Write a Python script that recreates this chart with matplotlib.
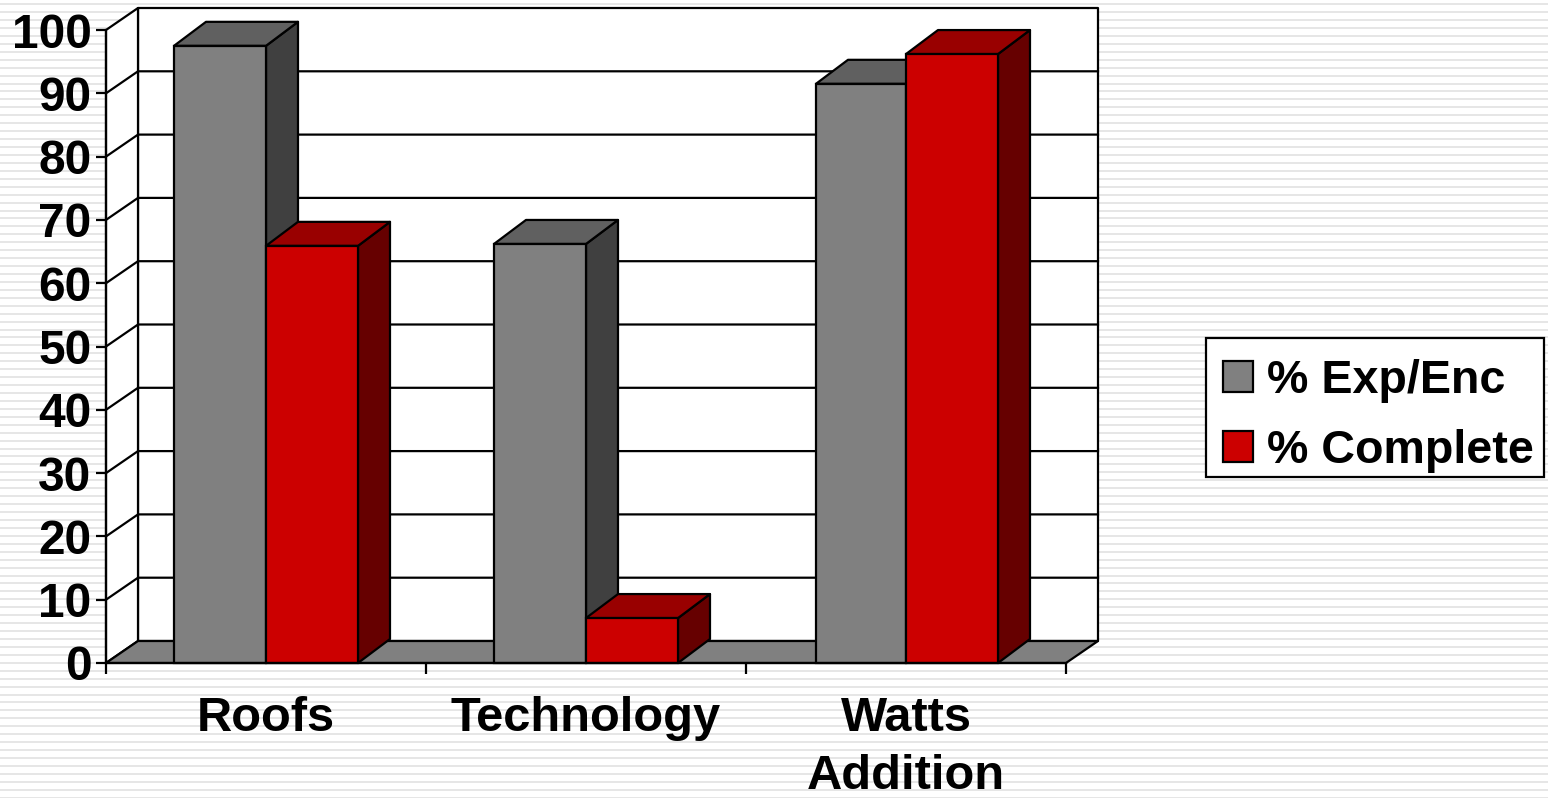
import matplotlib
matplotlib.use("Agg")
import matplotlib.pyplot as plt
from matplotlib.patches import Patch, Rectangle

plt.rcParams['font.family'] = ['Liberation Sans', 'DejaVu Sans']
plt.rcParams['font.weight'] = 'bold'

# chart values
categories = ['Roofs', 'Technology', 'Watts\nAddition']
exp_enc = [97.5, 66.2, 91.5]
complete = [65.9, 7.1, 96.2]
y_ticks = [0, 10, 20, 30, 40, 50, 60, 70, 80, 90, 100]
series_names = ['% Exp/Enc', '% Complete']

W, H = 1548, 798
fig = plt.figure(figsize=(W / 100, H / 100), dpi=100, facecolor='white')

# striped slide background
n = 0
while n * 7.935 < H:
    fig.add_artist(Rectangle((0, 1 - (3.2 + n * 7.935 + 2.0) / H), 1, 2.0 / H,
                             transform=fig.transFigure, fc='#e6e6e6', ec='none', zorder=-5))
    n += 1

# axes is the front plane of the 3D box
left, right, top, bottom = 106, 1066, 30, 663
ax = fig.add_axes([left / W, 1 - bottom / H, (right - left) / W, (bottom - top) / H])
ax.set_xlim(0, 3)
ax.set_ylim(0, 100)
ax.patch.set_visible(False)

px_x = 3 / (right - left)
px_y = 100 / (bottom - top)
depth_x = 32 * px_x
depth_y = 22 * px_y
bar_depth_y = 24 * px_y
lw = 1.6
bar_w = 92 * px_x


def face(xs, ys, color, z):
    ax.fill(xs, ys, fc=color, ec='black', lw=lw, clip_on=False, zorder=z, joinstyle='round')


# walls and floor
face([depth_x, 3 + depth_x, 3 + depth_x, depth_x], [depth_y, depth_y, 100 + depth_y, 100 + depth_y], 'white', 1)
face([0, depth_x, depth_x, 0], [0, depth_y, 100 + depth_y, 100], 'white', 1)
face([0, 3, 3 + depth_x, depth_x], [0, 0, depth_y, depth_y], '#808080', 1)

# gridlines on back and side wall
for t in y_ticks[1:-1]:
    ax.plot([0, depth_x, 3 + depth_x], [t, t + depth_y, t + depth_y], color='black', lw=lw,
            clip_on=False, zorder=2)


def bar3d(x0, width, v, front, side, top_c, z):
    ax.bar(x0, v, width=width, align='edge', fc=front, ec='black', lw=lw, zorder=z + 0.2, clip_on=False)
    x1 = x0 + width
    face([x1, x1 + depth_x, x1 + depth_x, x1], [0, bar_depth_y, v + bar_depth_y, v], side, z)
    face([x0, x1, x1 + depth_x, x0 + depth_x], [v, v, v + bar_depth_y, v + bar_depth_y], top_c, z + 0.1)


for i in range(len(categories)):
    center = i + 0.5
    # the last grey bar is drawn a touch narrower in the original
    w = bar_w - (2 * px_x if i == 2 else 0)
    bar3d(center - w, w, exp_enc[i], '#808080', '#404040', '#606060', 3 + i)
    bar3d(center, bar_w, complete[i], '#cc0000', '#660000', '#990000', 3.5 + i)

# axes lines and ticks
for s in ['top', 'right']:
    ax.spines[s].set_visible(False)
for s in ['left', 'bottom']:
    ax.spines[s].set_linewidth(lw)
    ax.spines[s].set_zorder(20)
ax.set_yticks(y_ticks)
ax.set_yticklabels([str(t) for t in y_ticks], va='center_baseline')
ax.tick_params(axis='y', direction='out', length=7.5, width=lw, pad=3, labelsize=34.5)
ax.set_xticks([0, 1, 2, 3])
ax.set_xticklabels([])
ax.tick_params(axis='x', which='major', direction='out', length=8, width=lw)
ax.set_xticks([0.5, 1.5, 2.5], minor=True)
ax.set_xticklabels(categories, minor=True, fontsize=35.2, linespacing=1.38)
ax.tick_params(axis='x', which='minor', length=0, pad=23.5)

# legend box drawn apart so the rows can sit low in it, as in the original
fig.add_artist(Rectangle((1206 / W, 1 - 477 / H), 338 / W, 139 / H, transform=fig.transFigure,
                         fc='white', ec='black', lw=lw, zorder=25))
handles = [Patch(fc='#808080', ec='black', lw=lw), Patch(fc='#cc0000', ec='black', lw=lw)]
leg = fig.legend(handles, series_names, loc='center', bbox_to_anchor=(1378.5 / W, 1 - 416 / H),
                 fontsize=33.6, frameon=False,
                 handlelength=0.64, handleheight=0.64, handletextpad=0.3, labelspacing=0.56,
                 borderpad=0, borderaxespad=0)
leg.set_zorder(30)

fig.savefig('out.png', dpi=100, facecolor='white')
